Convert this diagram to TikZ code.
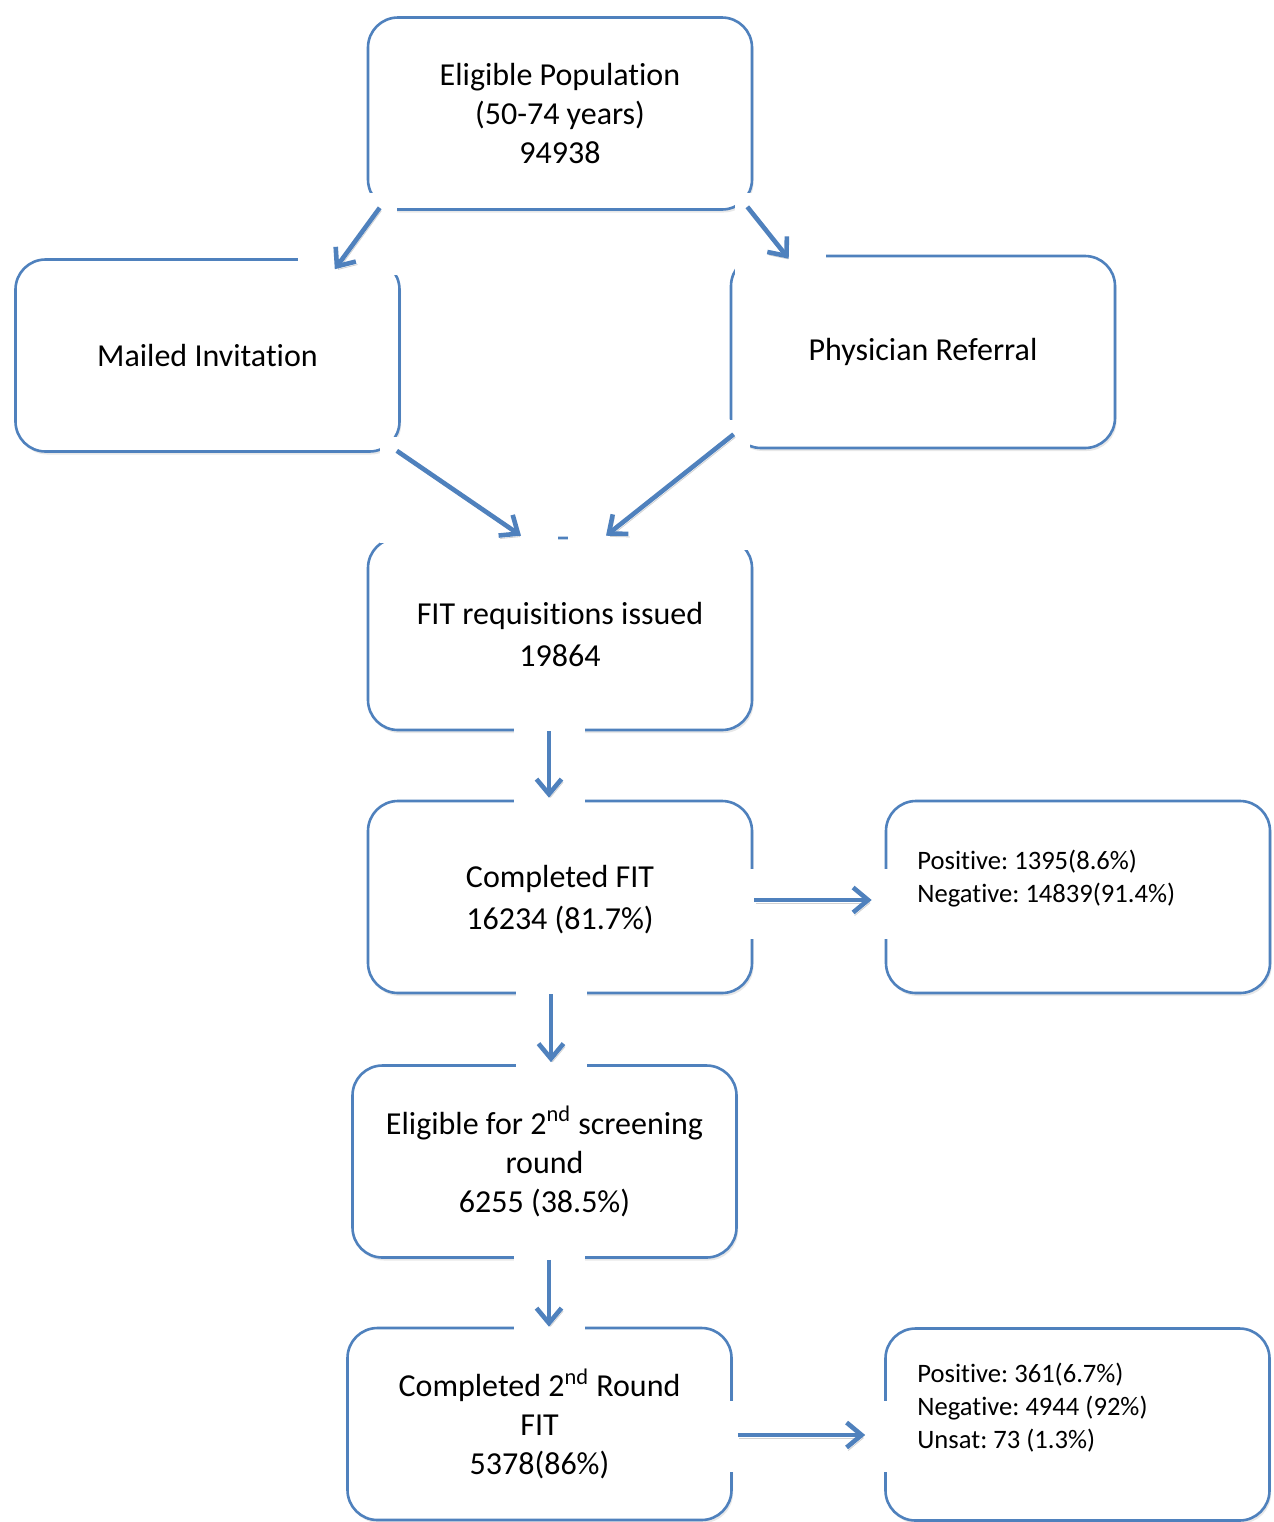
\documentclass[tikz,border=0pt]{standalone}
\usepackage{fontspec}
\setmainfont{Carlito}[Ligatures=NoCommon]
\usetikzlibrary{arrows.meta,calc,shadows}
\definecolor{boxblue}{HTML}{4F81BD}
\newcommand\bigf{\fontsize{16}{19.5}\selectfont\frenchspacing}
\newcommand\smallf{\fontsize{13.3}{16.3}\selectfont\frenchspacing}
\begin{document}
\begin{tikzpicture}[x=0.5pt,y=-0.5pt,
  box/.style={draw=boxblue, line width=1.3pt, rounded corners=15pt, fill=white,
    minimum width=192pt, minimum height=96pt, inner sep=0pt, align=center, font=\bigf,
    drop shadow={opacity=0.18, shadow xshift=0.8pt, shadow yshift=-1.5pt}},
  boxtext/.style={inner sep=0pt, align=center, font=\bigf},
  conn/.style={draw=boxblue, line width=2.3pt, -{Straight Barb[length=7.5pt,width=12.5pt]},
    preaction={draw=black!18, transform canvas={shift={(0.8pt,-1.5pt)}}}},
  masking/.style={fill=white},
  infotext/.style={anchor=north west, font=\smallf, align=left, inner sep=0pt}]
\useasboundingbox[fill=white] (0,0) rectangle (1274,1522);

% boxes
\node[box] (top) at (560,113.5) {Eligible Population\\(50-74 years)\\94938};
\node[box] (mail) at (207.5,355.5) {Mailed Invitation};
\node[box] (phys) at (923,352) {Physician Referral};
\node[box] (fitreq) at (560,634) {FIT requisitions issued\\[1.5pt]19864};
\node[box] (comp) at (560,897) {};
\node[boxtext] (comptxt) at (560,900) {Completed FIT\\[1.5pt]16234 (81.7\%)};
\node[box] (pos1) at (1078,897) {};
\node[box] (elig2) at (544.5,1161.5) {Eligible for 2\textsuperscript{nd} screening\\round\\6255 (38.5\%)};
\node[box] (comp2) at (539.5,1424) {Completed 2\textsuperscript{nd} Round\\FIT\\5378(86\%)};
\node[box] (pos2) at (1077.5,1424.5) {};

% white backgrounds behind the connectors
\fill[masking] (298,193) rectangle (397,275);
\fill[masking] (735,193) rectangle (826,300);
\fill[masking] (380,437) rectangle (558,543);
\fill[masking] (568,420) rectangle (750,550);
\fill[masking] (514,727) rectangle (585,812);
\fill[masking] (749,869) rectangle (888,939);
\fill[masking] (516,988) rectangle (587,1075);
\fill[masking] (514,1254) rectangle (585,1335);
\fill[masking] (723,1401) rectangle (887,1472);

% texts of the result boxes
\node[infotext] (pos1txt) at (917,850) {Positive: 1395(8.6\%)\\Negative: 14839(91.4\%)};
\node[infotext] (pos2txt) at (917,1363) {Positive: 361(6.7\%)\\Negative: 4944 (92\%)\\Unsat: 73 (1.3\%)};

% connectors
\draw[conn] ($(top.south west)+(13,-3)$) -- ($(mail.north east)+(-66,11)$);
\draw[conn] ($(top.south east)+(-6,-4)$) -- ($(phys.north west)+(59,4)$);
\draw[conn] ($(mail.south east)+(-4,-2)$) -- ($(fitreq.north)+(-39,-1)$);
\draw[conn] ($(phys.south west)+(4,-15)$) -- ($(fitreq.north)+(46,-1)$);
\draw[conn] ($(fitreq.south)+(-11,0)$) -- ($(comp.north)+(-11,-2)$);
\draw[conn] ($(comp.east)+(1,3)$) -- ($(pos1.west)+(-13,3)$);
\draw[conn] ($(comp.south)+(-9,0)$) -- ($(elig2.north)+(6.5,-2)$);
\draw[conn] ($(elig2.south)+(4.5,1)$) -- ($(comp2.north)+(9.5,0)$);
\draw[conn] ($(comp2.east)+(5,11)$) -- ($(pos2.west)+(-19,10.5)$);
\end{tikzpicture}
\end{document}
